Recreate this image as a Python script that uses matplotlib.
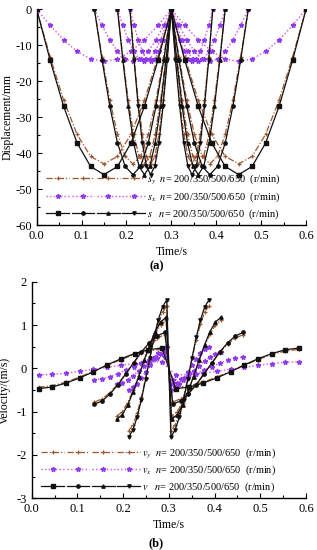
import matplotlib
matplotlib.use("Agg")
import matplotlib.pyplot as plt
from matplotlib.legend_handler import HandlerTuple
from matplotlib.ticker import MultipleLocator

plt.rcParams['font.family'] = ['Liberation Serif', 'DejaVu Serif']
plt.rcParams['mathtext.fontset'] = 'stix'
plt.rcParams['axes.unicode_minus'] = False

speeds = [200, 350, 500, 650]
xticks = [0.0, 0.1, 0.2, 0.3, 0.4, 0.5, 0.6]

# ---- displacement (a) ----
t_disp_200 = [0.00, 0.03, 0.06, 0.09, 0.12, 0.15, 0.18, 0.21, 0.24, 0.27, 0.30,
              0.33, 0.36, 0.39, 0.42, 0.45, 0.48, 0.51, 0.54, 0.57, 0.60]
t_disp_350 = [0.1286, 0.1457, 0.1629, 0.1800, 0.1971, 0.2143, 0.2314, 0.2486, 0.2657, 0.2829, 0.3000,
              0.3171, 0.3343, 0.3514, 0.3686, 0.3857, 0.4029, 0.4200, 0.4371, 0.4543, 0.4714]
t_disp_500 = [0.180, 0.192, 0.204, 0.216, 0.228, 0.240, 0.252, 0.264, 0.276, 0.288, 0.300,
              0.312, 0.324, 0.336, 0.348, 0.360, 0.372, 0.384, 0.396, 0.408, 0.420]
t_disp_650 = [0.2077, 0.2169, 0.2262, 0.2354, 0.2446, 0.2538, 0.2631, 0.2723, 0.2815, 0.2908, 0.3000,
              0.3092, 0.3185, 0.3277, 0.3369, 0.3462, 0.3554, 0.3646, 0.3738, 0.3831, 0.3923]

s_disp = [0, -14.2, -27.0, -37.2, -43.7, -46.0, -43.7, -37.2, -27.0, -14.2, 0,
          -14.2, -27.0, -37.2, -43.7, -46.0, -43.7, -37.2, -27.0, -14.2, 0]
sy_disp = [0, -13.3, -25.3, -34.8, -40.9, -43.0, -40.9, -34.8, -25.3, -13.3, 0,
           -13.3, -25.3, -34.8, -40.9, -43.0, -40.9, -34.8, -25.3, -13.3, 0]
sx_disp = [0, -4.5, -8.5, -11.7, -13.8, -14.5, -13.8, -11.7, -8.5, -4.5, 0,
           -4.5, -8.5, -11.7, -13.8, -14.5, -13.8, -11.7, -8.5, -4.5, 0]

# ---- velocity (b) ----
t_vel_200 = [0.015, 0.045, 0.075, 0.105, 0.135, 0.165, 0.195, 0.225, 0.255, 0.285,
             0.315, 0.345, 0.375, 0.405, 0.435, 0.465, 0.495, 0.525, 0.555, 0.585]
t_vel_350 = [0.1371, 0.1543, 0.1714, 0.1886, 0.2057, 0.2229, 0.2400, 0.2571, 0.2743, 0.2914,
             0.3086, 0.3257, 0.3429, 0.3600, 0.3771, 0.3943, 0.4114, 0.4286, 0.4457, 0.4629]
t_vel_500 = [0.186, 0.198, 0.210, 0.222, 0.234, 0.246, 0.258, 0.270, 0.282, 0.294,
             0.306, 0.318, 0.330, 0.342, 0.354, 0.366, 0.378, 0.390, 0.402, 0.414]
t_vel_650 = [0.2123, 0.2215, 0.2308, 0.2400, 0.2492, 0.2585, 0.2677, 0.2769, 0.2862, 0.2954,
             0.3046, 0.3138, 0.3231, 0.3323, 0.3415, 0.3508, 0.3600, 0.3692, 0.3785, 0.3877]

v_200 = [-0.47, -0.43, -0.34, -0.22, -0.08, 0.08, 0.22, 0.34, 0.43, 0.47,
         -0.47, -0.43, -0.34, -0.22, -0.08, 0.08, 0.22, 0.34, 0.43, 0.47]
v_350 = [-0.83, -0.75, -0.59, -0.38, -0.13, 0.13, 0.38, 0.59, 0.75, 0.83,
         -0.83, -0.75, -0.59, -0.38, -0.13, 0.13, 0.38, 0.59, 0.75, 0.83]
v_500 = [-1.18, -1.07, -0.85, -0.54, -0.19, 0.19, 0.54, 0.85, 1.07, 1.18,
         -1.18, -1.07, -0.85, -0.54, -0.19, 0.19, 0.54, 0.85, 1.07, 1.18]
v_650 = [-1.58, -1.42, -1.12, -0.72, -0.25, 0.25, 0.72, 1.12, 1.42, 1.58,
         -1.58, -1.42, -1.12, -0.72, -0.25, 0.25, 0.72, 1.12, 1.42, 1.58]

vy_200 = [-0.44, -0.40, -0.32, -0.20, -0.07, 0.07, 0.20, 0.32, 0.40, 0.44,
          -0.44, -0.40, -0.32, -0.20, -0.07, 0.07, 0.20, 0.32, 0.40, 0.44]
vy_350 = [-0.78, -0.70, -0.56, -0.36, -0.12, 0.12, 0.36, 0.56, 0.70, 0.78,
          -0.78, -0.70, -0.56, -0.36, -0.12, 0.12, 0.36, 0.56, 0.70, 0.78]
vy_500 = [-1.11, -1.00, -0.79, -0.51, -0.18, 0.18, 0.51, 0.79, 1.00, 1.11,
          -1.11, -1.00, -0.79, -0.51, -0.18, 0.18, 0.51, 0.79, 1.00, 1.11]
vy_650 = [-1.44, -1.30, -1.03, -0.66, -0.23, 0.23, 0.66, 1.03, 1.30, 1.44,
          -1.44, -1.30, -1.03, -0.66, -0.23, 0.23, 0.66, 1.03, 1.30, 1.44]

vx_200 = [-0.15, -0.14, -0.11, -0.07, -0.02, 0.02, 0.07, 0.11, 0.14, 0.15,
          -0.15, -0.14, -0.11, -0.07, -0.02, 0.02, 0.07, 0.11, 0.14, 0.15]
vx_350 = [-0.26, -0.24, -0.19, -0.12, -0.04, 0.04, 0.12, 0.19, 0.24, 0.26,
          -0.26, -0.24, -0.19, -0.12, -0.04, 0.04, 0.12, 0.19, 0.24, 0.26]
vx_500 = [-0.37, -0.34, -0.27, -0.17, -0.06, 0.06, 0.17, 0.27, 0.34, 0.37,
          -0.37, -0.34, -0.27, -0.17, -0.06, 0.06, 0.17, 0.27, 0.34, 0.37]
vx_650 = [-0.49, -0.44, -0.35, -0.22, -0.08, 0.08, 0.22, 0.35, 0.44, 0.49,
          -0.49, -0.44, -0.35, -0.22, -0.08, 0.08, 0.22, 0.35, 0.44, 0.49]

legend_text = "$n$= 200/350/500/650  (r/min)"

t_disp = [t_disp_200, t_disp_350, t_disp_500, t_disp_650]
t_vel = [t_vel_200, t_vel_350, t_vel_500, t_vel_650]
v_all = [v_200, v_350, v_500, v_650]
vy_all = [vy_200, vy_350, vy_500, vy_650]
vx_all = [vx_200, vx_350, vx_500, vx_650]

BLACK = '#111111'
BROWN = '#A0562C'
MAG = '#D84FE0'
PURP = '#8E3BEA'
black_markers = ['s', 'o', '^', 'v']
brown_markers = ['+', '+', '+', '+']
mag_markers = ['*', '*', '*', '*']

W, H = 317, 550
fig = plt.figure(figsize=(W / 100, H / 100), dpi=100)
ax1 = fig.add_axes([0.1158, 0.5909, 0.8495, 0.3922])
ax2 = fig.add_axes([0.1000, 0.0940, 0.8653, 0.3938])


def style(ax):
    for sp in ['top', 'right']:
        ax.spines[sp].set_visible(False)
    ax.spines['left'].set_linewidth(1.0)
    ax.spines['bottom'].set_linewidth(1.0)
    ax.tick_params(which='both', direction='in', labelsize=9, width=0.8)
    ax.tick_params(which='major', length=3.5)
    ax.tick_params(which='minor', length=2)
    ax.set_xlim(0, 0.6)
    ax.set_xticks(xticks)
    ax.set_xticklabels([f"{v:.1f}" for v in xticks])
    ax.xaxis.set_minor_locator(MultipleLocator(0.05))


def draw(ax, tlist, ylists, legend_names):
    hy, hx, hs = [], [], []
    yb, yx, ys = ylists
    for i in range(4):
        l, = ax.plot(tlist[i], yb[i], color=BROWN, ls=(0, (5, 1.5, 1, 1.5)), lw=0.9,
                     marker=brown_markers[i], ms=3.5, mew=0.9, mec=BROWN, zorder=2)
        hy.append(l)
    for i in range(4):
        l, = ax.plot(tlist[i], yx[i], color=MAG, ls=(0, (1, 1.6)), lw=1.0,
                     marker=mag_markers[i], ms=3.5, mfc=PURP, mec=PURP, zorder=2)
        hx.append(l)
    for i in range(4):
        l, = ax.plot(tlist[i], ys[i], color=BLACK, ls='-', lw=0.9,
                     marker=black_markers[i], ms=2.4, mfc=BLACK, mec=BLACK, zorder=3)
        hs.append(l)
    leg = ax.legend([tuple(hy), tuple(hx), tuple(hs)],
                    [legend_names[0] + "  " + legend_text,
                     legend_names[1] + "  " + legend_text,
                     legend_names[2] + "   " + legend_text],
                    handler_map={tuple: HandlerTuple(ndivide=None, pad=0.25)},
                    handlelength=9.5, handletextpad=0.2, labelspacing=0.35,
                    frameon=False, fontsize=7.5, loc='lower left',
                    borderaxespad=0, borderpad=0, bbox_to_anchor=(0.035, 0.02))
    return leg


# ---- (a) ----
style(ax1)
draw(ax1, t_disp, [[sy_disp] * 4, [sx_disp] * 4, [s_disp] * 4],
     ["$s_y$", "$s_x$", "$s$"])
ax1.set_ylim(-60, 0)
ax1.yaxis.set_major_locator(MultipleLocator(10))
ax1.yaxis.set_minor_locator(MultipleLocator(5))
ax1.set_ylabel("Displacement/mm", fontsize=8.5, labelpad=1)
ax1.set_xlabel("Time/s", fontsize=8.5, labelpad=3)
fig.text(0.493, 1 - 266.7 / 550, "(a)", ha='center', va='center', fontsize=9, fontweight='bold')

# ---- (b) ----
style(ax2)
draw(ax2, t_vel, [vy_all, vx_all, v_all], ["$v_y$", "$v_x$", "$v$"])
ax2.set_ylim(-3, 2)
ax2.yaxis.set_major_locator(MultipleLocator(1))
ax2.yaxis.set_minor_locator(MultipleLocator(0.5))
ax2.set_ylabel("Velocity/(m/s)", fontsize=8.5, labelpad=4)
ax2.set_xlabel("Time/s", fontsize=8.5, labelpad=3)
fig.text(0.493, 1 - 543 / 550, "(b)", ha='center', va='center', fontsize=9, fontweight='bold')

fig.savefig("out.png", dpi=100)
